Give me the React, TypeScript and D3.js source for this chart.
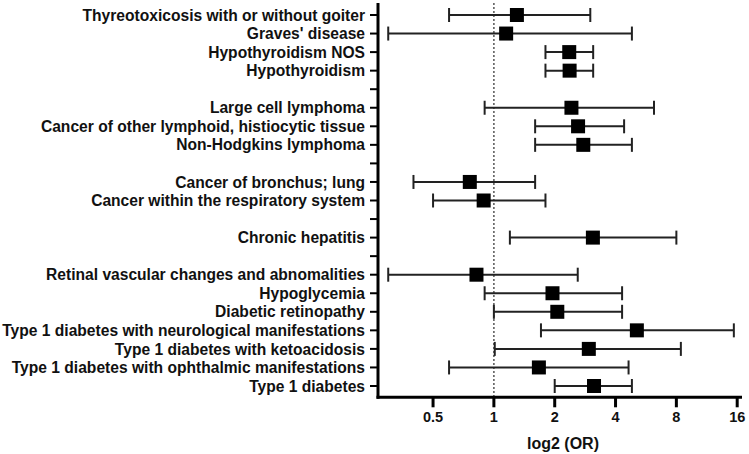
import React from 'react';
import * as d3 from 'd3';

const width = 749;
const height = 454;

// rows top to bottom; '' = blank spacer slot (tick but no label)
const labels = [
  'Thyreotoxicosis with or without goiter',
  "Graves' disease",
  'Hypothyroidism NOS',
  'Hypothyroidism',
  '',
  'Large cell lymphoma',
  'Cancer of other lymphoid, histiocytic tissue',
  'Non-Hodgkins lymphoma',
  '',
  'Cancer of bronchus; lung',
  'Cancer within the respiratory system',
  '',
  'Chronic hepatitis',
  '',
  'Retinal vascular changes and abnomalities',
  'Hypoglycemia',
  'Diabetic retinopathy',
  'Type 1 diabetes with neurological manifestations',
  'Type 1 diabetes with ketoacidosis',
  'Type 1 diabetes with ophthalmic manifestations',
  'Type 1 diabetes',
];

const orValues = [1.3, 1.15, 2.36, 2.37, null, 2.42, 2.61, 2.77, null, 0.76, 0.89, null, 3.09, null, 0.82, 1.95, 2.06, 5.1, 2.95, 1.67, 3.13];
const ciLow = [0.6, 0.3, 1.8, 1.8, null, 0.9, 1.6, 1.6, null, 0.4, 0.5, null, 1.2, null, 0.3, 0.9, 1.0, 1.71, 1.01, 0.6, 2.0];
const ciHigh = [3.0, 4.82, 3.1, 3.1, null, 6.2, 4.41, 4.82, null, 1.6, 1.8, null, 8.0, null, 2.6, 4.31, 4.31, 15.4, 8.42, 4.64, 4.82];

const xTicks = [0.5, 1, 2, 4, 8, 16];

const margin = { top: 3, left: 378, right: 7, bottom: 57 };
const font = '"Liberation Sans", Arial, sans-serif';

export default function App() {
  const x = d3.scaleLog().base(2).domain([0.267, 16.9]).range([margin.left, width - margin.right]);
  const slots = labels.map((_, i) => i);
  const y = d3.scalePoint<number>().domain(slots).range([15, 386]);
  const axisY = height - margin.bottom + 0.3;
  const cap = 7;
  const sq = 14;

  return (
    <svg width={width} height={height} style={{ position: 'absolute', left: 0, top: 0, background: '#fff' }} fontFamily={font} fontWeight="bold">
      {/* reference line at OR = 1 */}
      <line x1={x(1)} x2={x(1)} y1={margin.top} y2={axisY} stroke="#555" strokeWidth={1.5} strokeDasharray="2,2" />

      {/* y axis */}
      <line x1={margin.left} x2={margin.left} y1={margin.top} y2={axisY + 1.5} stroke="#000" strokeWidth={3} />
      {slots.map((i) => (
        <g key={i} transform={`translate(0,${y(i)})`}>
          <line x1={margin.left - 8} x2={margin.left} stroke="#000" strokeWidth={2} />
          {labels[i] && (
            <text x={margin.left - 13} dy="0.36em" textAnchor="end" fontSize={15.6} fill="#111">{labels[i]}</text>
          )}
        </g>
      ))}

      {/* x axis */}
      <line x1={margin.left - 1.5} x2={width - margin.right} y1={axisY} y2={axisY} stroke="#000" strokeWidth={3} />
      {xTicks.map((t) => (
        <g key={t} transform={`translate(${x(t)},${axisY})`}>
          <line y1={0} y2={10} stroke="#000" strokeWidth={3} />
          <text y={25} textAnchor="middle" fontSize={14.5} fill="#111">{t}</text>
        </g>
      ))}
      <text x={563} y={449} textAnchor="middle" fontSize={16} fill="#111">log2 (OR)</text>

      {/* estimates */}
      {slots.map((i) => {
        const or = orValues[i];
        const lo = ciLow[i];
        const hi = ciHigh[i];
        if (or == null || lo == null || hi == null) return null;
        const cy = y(i) as number;
        return (
          <g key={`e${i}`}>
            <line x1={x(lo)} x2={x(hi)} y1={cy} y2={cy} stroke="#222" strokeWidth={2} />
            <line x1={x(lo)} x2={x(lo)} y1={cy - cap} y2={cy + cap} stroke="#222" strokeWidth={2} />
            <line x1={x(hi)} x2={x(hi)} y1={cy - cap} y2={cy + cap} stroke="#222" strokeWidth={2} />
            <rect x={x(or) - sq / 2} y={cy - sq / 2} width={sq} height={sq} fill="#000" />
          </g>
        );
      })}
    </svg>
  );
}
